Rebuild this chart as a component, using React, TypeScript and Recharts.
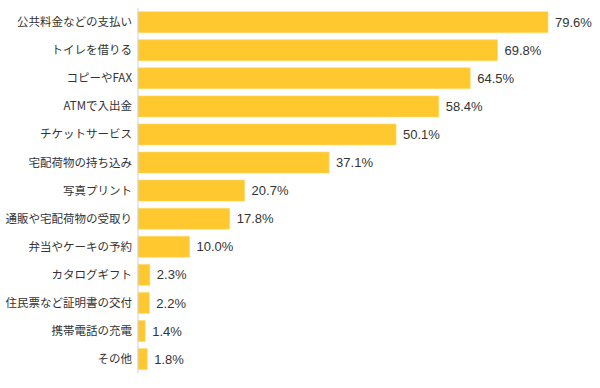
import React from "react";
import { BarChart, Bar, XAxis, YAxis, LabelList } from "recharts";

const categories = [
  "公共料金などの支払い",
  "トイレを借りる",
  "コピーやFAX",
  "ATMで入出金",
  "チケットサービス",
  "宅配荷物の持ち込み",
  "写真プリント",
  "通販や宅配荷物の受取り",
  "弁当やケーキの予約",
  "カタログギフト",
  "住民票など証明書の交付",
  "携帯電話の充電",
  "その他",
];
const values = [79.6, 69.8, 64.5, 58.4, 50.1, 37.1, 20.7, 17.8, 10.0, 2.3, 2.2, 1.4, 1.8];

const data = categories.map((name, i) => ({ name, value: values[i] }));

export default function App() {
  return (
    <div>
      <style>{"body{margin:0}"}</style>
      <BarChart
        width={600}
        height={388}
        data={data}
        layout="vertical"
        margin={{ top: 8, right: 52, bottom: 15, left: 0 }}
        barCategoryGap="13%"
      >
        <XAxis
          type="number"
          domain={[0, "dataMax"]}
          tick={false}
          tickLine={false}
          height={0}
          axisLine={{ stroke: "#c8c8c8" }}
        />
        <YAxis
          type="category"
          dataKey="name"
          width={138}
          axisLine={{ stroke: "#d0d0d0" }}
          tickLine={false}
          tickSize={4}
          tickMargin={2}
          interval={0}
          tick={{ fill: "#333333", fontSize: 11.5, fontFamily: "Noto Sans CJK JP" }}
        />
        <Bar dataKey="value" fill="#FFC82E" stroke="#FFDA6E" strokeWidth={0.6} isAnimationActive={false}>
          <LabelList
            dataKey="value"
            position="right"
            offset={7}
            formatter={(v: number) => v.toFixed(1) + "%"}
            style={{ fill: "#333333", fontSize: 13, fontFamily: "Liberation Sans" }}
          />
        </Bar>
      </BarChart>
    </div>
  );
}
